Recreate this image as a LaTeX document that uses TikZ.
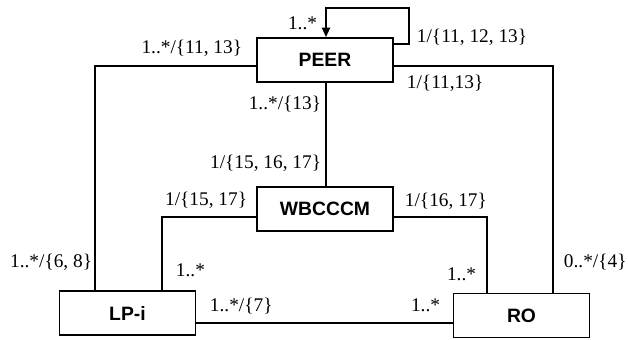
\documentclass[tikz,border=0pt]{standalone}
\usepackage{fontspec}
\setmainfont{Liberation Serif}
\setsansfont{Liberation Sans}
\usetikzlibrary{arrows.meta}
\begin{document}
\begin{tikzpicture}[x=0.75pt,y=-0.75pt,
  line width=1.4pt,
  entity/.style={draw,rectangle,minimum width=102pt,minimum height=33pt,inner sep=0pt,
    font=\sffamily\bfseries\fontsize{14.5}{17}\selectfont},
  lbl/.style={inner sep=0pt,font=\fontsize{14.5}{17}\selectfont},
  tip/.style={-{Triangle[length=7pt,width=6pt]}}]
\useasboundingbox (0,0) rectangle (628,339);
% boxes
\node[entity] (peer) at (325,60) {PEER};
\node[entity] (wb) at (325,209) {WBCCCM};
\node[entity] (lpi) at (127.5,313) {LP-i};
\node[entity] (ro) at (521.5,315.5) {RO};
% helper coordinates
\coordinate (loopR) at (409,8);
\coordinate (loopT) at (326,8);
\coordinate (lx) at (95,0);
\coordinate (rx) at (553,0);
\coordinate (wlx) at (162,0);
\coordinate (wrx) at (487,0);
\coordinate (hy) at (0,323);
\coordinate (py) at (0,66);
\coordinate (ly) at (0,44);
\coordinate (wy) at (0,217);
% connectors
\draw[tip] (peer.east |- ly) -- (loopR |- ly) -- (loopR) -- (loopT) -- (loopT |- peer.north);
\draw (peer.west |- py) -| (lx |- lpi.north);
\draw (peer.east |- py) -| (rx |- ro.north);
\draw (loopT |- peer.south) -- (loopT |- wb.north);
\draw (wb.west |- wy) -| (wlx |- lpi.north);
\draw (wb.east |- wy) -| (wrx |- ro.north);
\draw (lpi.east |- hy) -- (ro.west |- hy);
% labels
\node[lbl,anchor=east] (l1) at (318,23) {1..*};
\node[lbl,anchor=west] (l2) at (416,37) {1/\{11, 12, 13\}};
\node[lbl,anchor=east] (l3) at (243,48) {1..*/\{11, 13\}};
\node[lbl,anchor=west] (l4) at (406,83) {1/\{11,13\}};
\node[lbl,anchor=east] (l5) at (322,104) {1..*/\{13\}};
\node[lbl,anchor=east] (l6) at (322,163) {1/\{15, 16, 17\}};
\node[lbl,anchor=east] (l7) at (248,200) {1/\{15, 17\}};
\node[lbl,anchor=west] (l8) at (404,201) {1/\{16, 17\}};
\node[lbl,anchor=east] (l9) at (93,262) {1..*/\{6, 8\}};
\node[lbl,anchor=west] (l10) at (175,270) {1..*};
\node[lbl,anchor=east] (l11) at (477,274) {1..*};
\node[lbl,anchor=west] (l12) at (563,262) {0..*/\{4\}};
\node[lbl,anchor=west] (l13) at (209,306) {1..*/\{7\}};
\node[lbl,anchor=east] (l14) at (441,305) {1..*};
\end{tikzpicture}
\end{document}
